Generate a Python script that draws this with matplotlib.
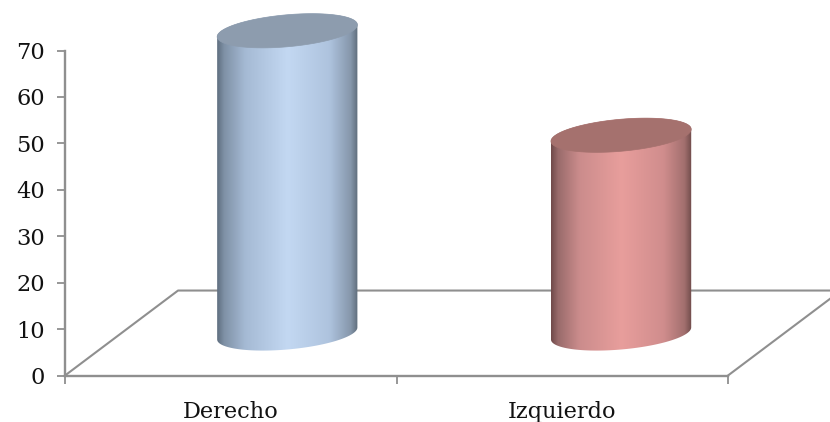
#!/usr/bin/env python3
"""Cylinder bar chart with a perspective floor, Derecho vs Izquierdo."""

import numpy as np
import matplotlib
matplotlib.use('Agg')
import matplotlib.pyplot as plt
from matplotlib.colors import LinearSegmentedColormap
from matplotlib.patches import Polygon

categories = ['Derecho', 'Izquierdo']
values = [65.2, 42.7]
y_ticks = [0, 10, 20, 30, 40, 50, 60, 70]

gradient_stops = [0.0, 0.05, 0.2, 0.5, 0.8, 0.95, 1.0]
side_colors = [
    ['#5f6f80', '#7f91a6', '#a5bad4', '#c3d8f2', '#aec3de', '#8697ab', '#5f6d7c'],
    ['#704a4a', '#996b6b', '#cb8c8c', '#e89e9c', '#d08d8d', '#a26f6e', '#6f4b4a'],
]
top_colors = ['#8d9cae', '#a5716e']

AXIS_COLOR = '#8f8f8f'
TEXT_COLOR = '#111111'

# floor depth, in axis units
DEPTH_X = 0.341
DEPTH_Y = 18.3
# cylinders spread a little wider than the categories because of the perspective
CYLINDER_SPACING = 1.007
# cylinder ellipse shape, in axis units
RADIUS_X = 0.2115
TILT_Y = 1.29
RADIUS_Y = 3.45


def ellipse(cx, cy, t):
    x = cx + RADIUS_X * np.cos(t)
    y = cy + TILT_Y * np.cos(t) + RADIUS_Y * np.sin(t)
    return x, y


def draw_cylinder(ax, pos, value, colors, top_color):
    cx = pos * CYLINDER_SPACING + 0.5 + DEPTH_X / 2
    base = 9.05
    top = base + value

    # outline of the side: up the left edge, over the top, round the bottom front
    t_top = np.linspace(0, np.pi, 80)
    t_bot = np.linspace(np.pi, 2 * np.pi, 80)
    x1, y1 = ellipse(cx, top, t_top)
    x2, y2 = ellipse(cx, base, t_bot)
    outline = np.column_stack([np.r_[x1, x2], np.r_[y1, y2]])
    body = Polygon(outline, closed=True, facecolor='none', edgecolor='none',
                   transform=ax.transData)
    ax.add_patch(body)

    cmap = LinearSegmentedColormap.from_list('side', list(zip(gradient_stops, colors)))
    shade = np.linspace(0, 1, 256).reshape(1, -1)
    im = ax.imshow(shade, cmap=cmap, aspect='auto', zorder=3, interpolation='bilinear',
                   extent=(cx - RADIUS_X, cx + RADIUS_X, base - 6, top + 6))
    im.set_clip_box(ax.figure.bbox)
    im.set_clip_path(body)

    t = np.linspace(0, 2 * np.pi, 160)
    x3, y3 = ellipse(cx, top, t)
    ax.fill(x3, y3, color=top_color, lw=0.5, zorder=4, clip_on=False)


def main():
    fig = plt.figure(figsize=(8.30, 4.22), dpi=100)
    # axes box sits on the y axis and front floor edge
    ax = fig.add_axes([65 / 830, 1 - 375.5 / 422, 663 / 830, 325 / 422])

    for i, (value, colors, top_color) in enumerate(zip(values, side_colors, top_colors)):
        draw_cylinder(ax, i, value, colors, top_color)

    ax.set_xlim(0, len(categories))
    ax.set_ylim(0, 70)

    # floor: left edge, back edge, right edge
    n = len(categories)
    ax.plot([0, DEPTH_X, n + DEPTH_X, n], [0, DEPTH_Y, DEPTH_Y, 0],
            color=AXIS_COLOR, lw=1.5, zorder=1, clip_on=False)

    for side in ('top', 'right'):
        ax.spines[side].set_visible(False)
    for side in ('left', 'bottom'):
        ax.spines[side].set_color(AXIS_COLOR)
        ax.spines[side].set_linewidth(1.7)

    ax.set_yticks(y_ticks)
    ax.tick_params(axis='y', length=6, width=1.3, color=AXIS_COLOR, pad=8.5,
                   labelsize=16.2, labelcolor=TEXT_COLOR)
    ax.set_xticks(range(n + 1))
    ax.set_xticklabels([])
    ax.tick_params(axis='x', which='major', length=5.5, width=1.3, color=AXIS_COLOR)
    ax.set_xticks([i + 0.5 for i in range(n)], minor=True)
    ax.set_xticklabels(categories, minor=True)
    ax.tick_params(axis='x', which='minor', length=0, pad=18.5,
                   labelsize=16.2, labelcolor=TEXT_COLOR)
    for label in ax.get_xticklabels(minor=True) + ax.get_yticklabels():
        label.set_family('DejaVu Serif')

    fig.savefig('out.png', dpi=100)


if __name__ == '__main__':
    main()
